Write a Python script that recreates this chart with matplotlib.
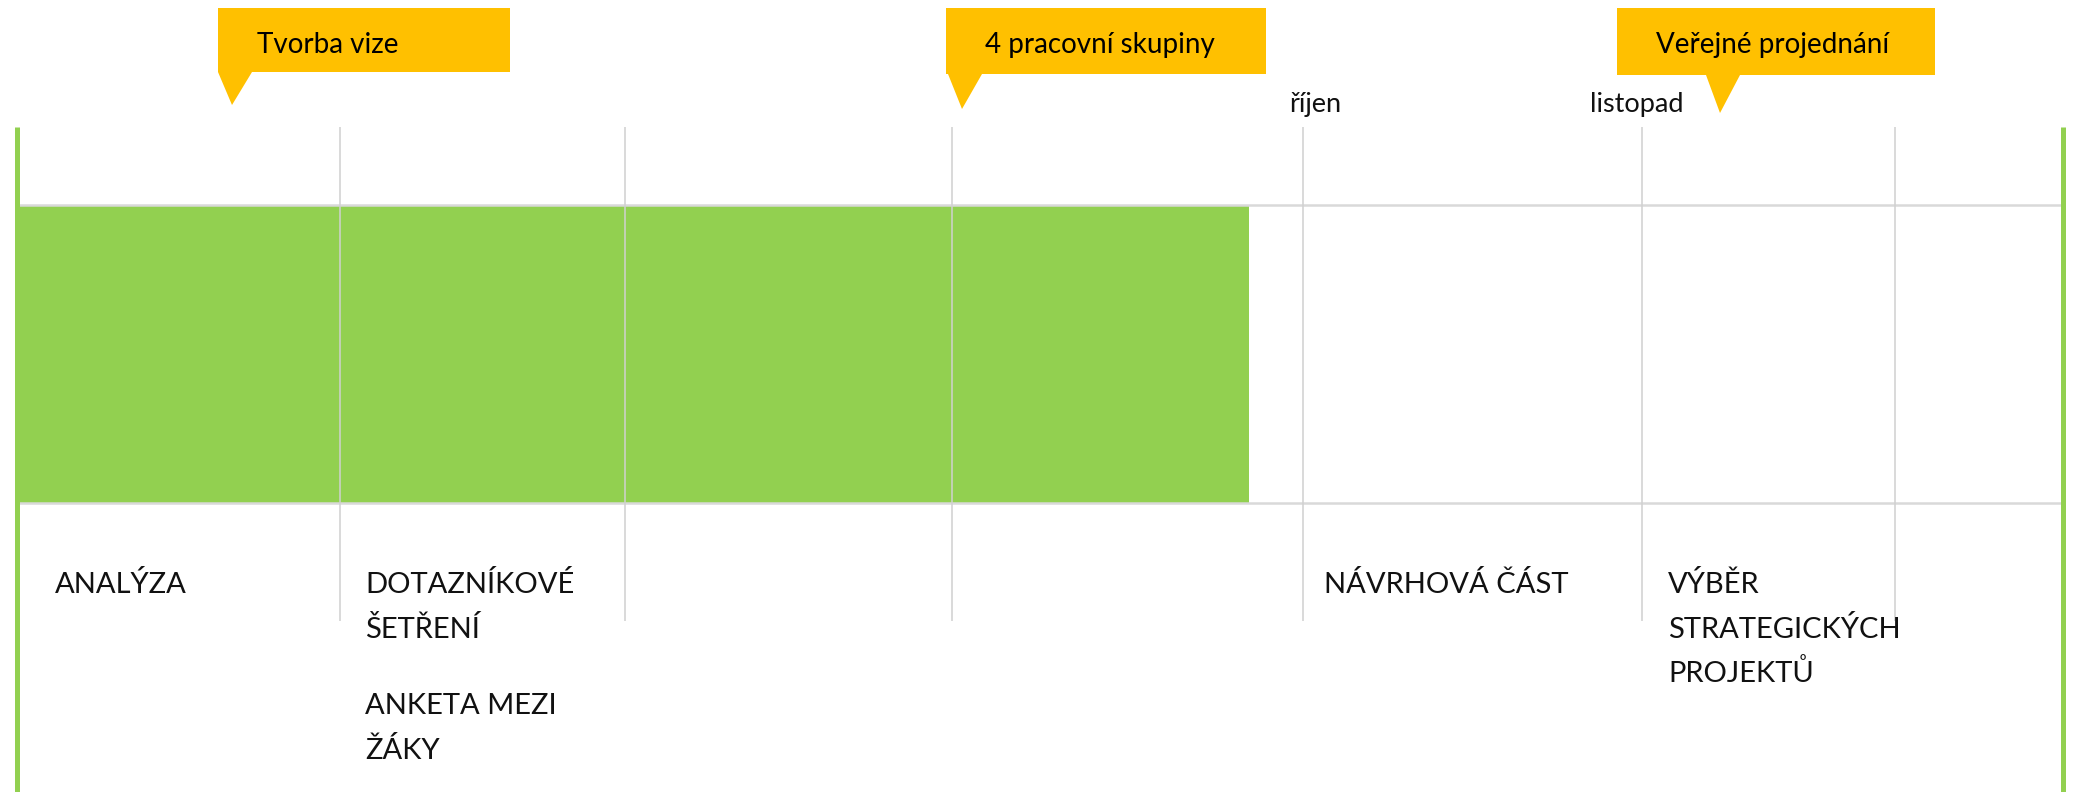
import matplotlib.pyplot as plt
from matplotlib.patches import Polygon, Rectangle

plt.rcParams['font.family'] = ['Lato', 'DejaVu Sans']

# casova osa - hodnoty v px sirky obrazku
ramec = [16.5, 2062.5]
mrizka = [340, 625, 952, 1303, 1642, 1895]
hotovo = [19, 1249]          # zelena (hotova) faze

mesice = ["říjen", "listopad"]
mesice_x = [1316, 1637]

bubliny = ["Tvorba vize", "4 pracovní skupiny", "Veřejné projednání"]
bubliny_hrot = [232, 962, 1720]

faze_x = [55, 365, 1324, 1668]
faze = [
    [["ANALÝZA"]],
    [["DOTAZNÍKOVÉ", "ŠETŘENÍ"], ["ANKETA MEZI", "ŽÁKY"]],
    [["NÁVRHOVÁ ČÁST"]],
    [["VÝBĚR", "STRATEGICKÝCH", "PROJEKTŮ"]],
]

# rozlozeni
box_l = [218, 946, 1617]
box_r = [510, 1266, 1935]
box_b = [72, 74, 75]
hrot_y = [105, 109, 113]

zelena = '#92D050'
zluta = '#FFC000'

fig = plt.figure(figsize=(20.75, 7.92), dpi=100)
ax = fig.add_axes([0, 0, 1, 1])
ax.set_xlim(0, 2075)
ax.set_ylim(792, 0)
ax.axis('off')

# pruh
ax.add_patch(Rectangle((hotovo[0], 205), hotovo[1] - hotovo[0], 298,
                       facecolor=zelena, lw=0, zorder=1))
ax.hlines([205, 503], ramec[0], ramec[1], color='#d9d9d9', lw=1.8, zorder=2)
ax.vlines(mrizka, 127, 621, color='#d0d0d0', lw=1.1, zorder=3)
ax.vlines(ramec, 127, 792, color=zelena, lw=3.6, zorder=4)

# bubliny
for i in range(len(bubliny)):
    t = bubliny_hrot[i]
    x0, x1, y1 = box_l[i], box_r[i], box_b[i]
    pts = [(x0, 8), (x1, 8), (x1, y1), (t + 20, y1), (t, hrot_y[i]),
           (t - 14, y1), (x0, y1)]
    ax.add_patch(Polygon(pts, closed=True, facecolor=zluta, edgecolor='none', zorder=5))
    ax.text(x0 + 39, 53, bubliny[i], fontsize=20, color='black',
            ha='left', va='baseline', zorder=6)

# mesice
for m, mx in zip(mesice, mesice_x):
    ax.text(mx, 112, m, fontsize=19.5, color='#111111',
            ha='center', va='baseline')

# popisky fazi
for x, odstavce in zip(faze_x, faze):
    y = 593
    for odst in odstavce:
        for radek in odst:
            ax.text(x, y, radek, fontsize=21, color='#111111',
                    ha='left', va='baseline')
            y += 44.5
        y += 32.5

fig.savefig('out.png', dpi=100)
